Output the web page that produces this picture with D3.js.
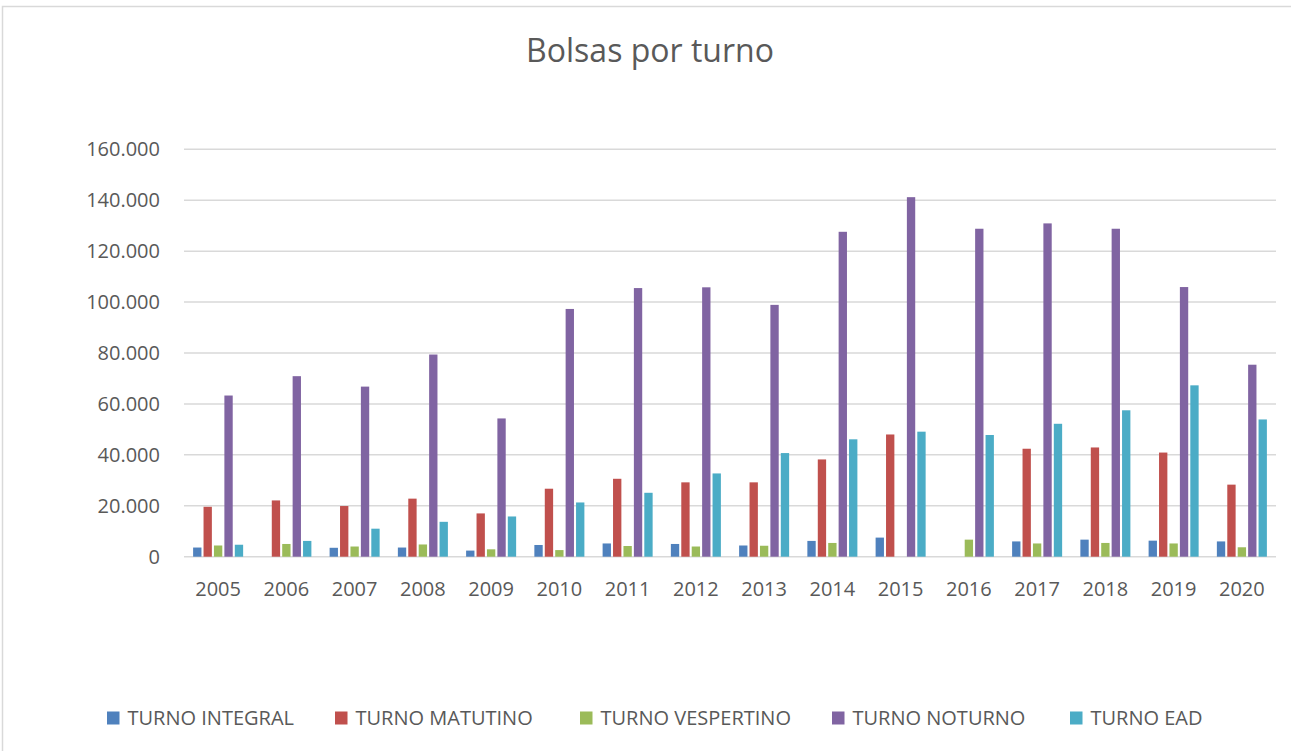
<!DOCTYPE html>
<html>
<head>
<meta charset="utf-8">
<script src="https://cdn.jsdelivr.net/npm/d3@7"></script>
<style>
  body { margin: 0; background: #fff; }
  svg { display: block; font-family: "Open Sans", "Noto Sans", sans-serif; }
</style>
</head>
<body>
<div id="chart"></div>
<script>
////////// DATA //////////

const years = ["2005","2006","2007","2008","2009","2010","2011","2012","2013","2014","2015","2016","2017","2018","2019","2020"];

const seriesNames = ["TURNO INTEGRAL", "TURNO MATUTINO", "TURNO VESPERTINO", "TURNO NOTURNO", "TURNO EAD"];

// values, null = no bar
const integral   = [3600, null, 3500, 3600, 2400, 4600, 5200, 5000, 4400, 6200, 7500, null, 6000, 6700, 6300, 6000];
const matutino   = [19600, 22100, 19900, 22800, 17000, 26700, 30600, 29200, 29200, 38200, 48000, null, 42400, 42900, 40900, 28300];
const vespertino = [4400, 5000, 4000, 4800, 2900, 2600, 4200, 4000, 4300, 5400, null, 6700, 5200, 5400, 5200, 3700];
const noturno    = [63300, 70900, 66800, 79400, 54300, 97300, 105500, 105800, 98900, 127600, 141200, 128800, 130900, 128800, 105900, 75400];
const ead        = [4700, 6200, 11000, 13700, 15800, 21300, 25100, 32700, 40700, 46100, 49100, 47800, 52200, 57500, 67300, 53900];

const yTicks = [0, 20000, 40000, 60000, 80000, 100000, 120000, 140000, 160000];

const colours = ["#4F81BD", "#C0504D", "#9BBB59", "#8064A2", "#4BACC6"];

const seriesValues = [integral, matutino, vespertino, noturno, ead];


////////// SETUP //////////

const W = 1291, H = 751;
const plot = { left: 184, right: 1276, top: 149.3, bottom: 556.7 };
const textColour = "#595959";
const gridColour = "#d9d9d9";

let svg = d3.select("#chart")
  .append("svg")
    .attr("width", W)
    .attr("height", H);

// chart border
svg.append("rect")
    .attr("x", 2.5)
    .attr("y", 6.5)
    .attr("width", W + 10)
    .attr("height", H + 10)
    .attr("fill", "none")
    .attr("stroke", gridColour)
    .attr("stroke-width", 1.5);

let x0 = d3.scaleBand()
    .domain(years)
    .range([plot.left, plot.right])
    .paddingInner(0.267)
    .paddingOuter(0.1335);

let x1 = d3.scaleBand()
    .domain(d3.range(seriesNames.length))
    .range([0, x0.bandwidth()])
    .paddingInner(0.2);

let y = d3.scaleLinear()
    .domain([0, 160000])
    .range([plot.bottom, plot.top]);

let fmt = d => d === 0 ? "0" : d3.format(",")(d).replace(/,/g, ".");


////////// TITLE //////////

svg.append("text")
    .attr("x", 650)
    .attr("y", 62)
    .attr("text-anchor", "middle")
    .style("font-size", "32px")
    .style("fill", textColour)
    .text("Bolsas por turno");


////////// GRID + AXES //////////

svg.append("g")
    .attr("class", "grid")
  .selectAll("line")
    .data(yTicks)
    .enter()
    .append("line")
    .attr("x1", plot.left)
    .attr("x2", plot.right)
    .attr("y1", d => y(d))
    .attr("y2", d => y(d))
    .attr("stroke", gridColour)
    .attr("stroke-width", 1.5);

svg.append("g")
    .attr("class", "y-labels")
  .selectAll("text")
    .data(yTicks)
    .enter()
    .append("text")
    .attr("x", 160)
    .attr("y", d => y(d))
    .attr("dy", "0.35em")
    .attr("text-anchor", "end")
    .style("font-size", "20px")
    .style("fill", textColour)
    .text(fmt);

svg.append("g")
    .attr("class", "x-labels")
  .selectAll("text")
    .data(years)
    .enter()
    .append("text")
    .attr("x", d => x0(d) + x0.bandwidth() / 2)
    .attr("y", 589)
    .attr("dy", "0.35em")
    .attr("text-anchor", "middle")
    .style("font-size", "20px")
    .style("fill", textColour)
    .text(d => d);


////////// BARS //////////

let groups = svg.append("g")
    .attr("class", "bars")
  .selectAll("g")
    .data(years)
    .enter()
    .append("g")
    .attr("transform", d => "translate(" + x0(d) + ",0)");

groups.selectAll("rect")
    .data((d, i) => seriesValues.map((s, k) => ({ k: k, v: s[i] })).filter(e => e.v != null))
    .enter()
    .append("rect")
    .attr("x", d => x1(d.k))
    .attr("width", x1.bandwidth())
    .attr("y", d => y(d.v))
    .attr("height", d => y(0) - y(d.v))
    .attr("fill", d => colours[d.k]);


////////// LEGEND //////////

const legendX = [107, 335, 580, 832, 1070];

let legend = svg.append("g")
    .attr("class", "legend")
  .selectAll("g")
    .data(seriesNames)
    .enter()
    .append("g")
    .attr("transform", (d, i) => "translate(" + legendX[i] + ",718)");

legend.append("rect")
    .attr("x", 0)
    .attr("y", -6.5)
    .attr("width", 12.5)
    .attr("height", 13)
    .attr("fill", (d, i) => colours[i]);

legend.append("text")
    .attr("x", 20.5)
    .attr("dy", "0.35em")
    .style("font-size", "20px")
    .style("fill", textColour)
    .text(d => d);
</script>
</body>
</html>
